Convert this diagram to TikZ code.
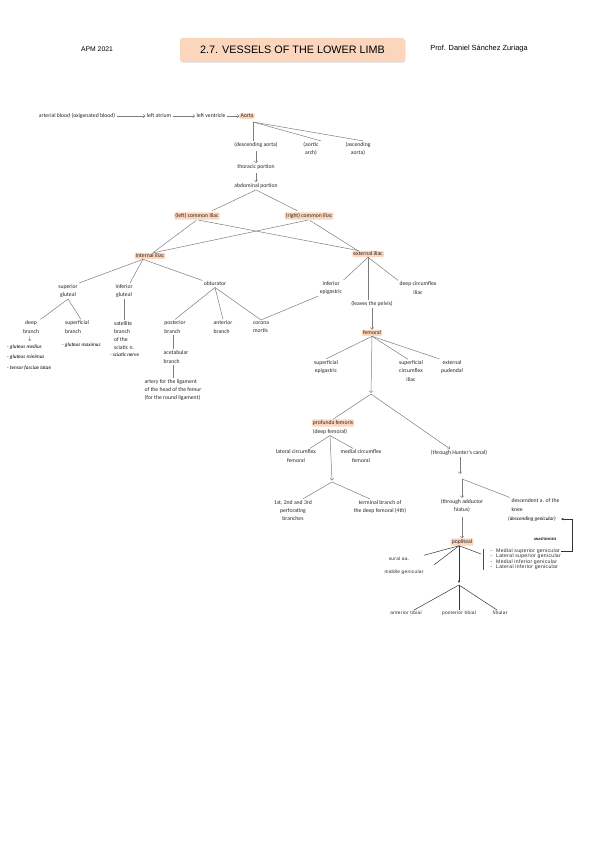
\documentclass[tikz,border=0pt]{standalone}
\usepackage{fontspec}
\newfontfamily\cf{Carlito}
\newfontfamily\hf{Liberation Sans}
\newfontfamily\pf[LetterSpace=6]{Liberation Sans}
\usetikzlibrary{arrows.meta,shadows}

\definecolor{peach}{RGB}{252,214,188}
\definecolor{linegray}{RGB}{125,125,125}

\tikzset{
  lbl/.style={font=\cf\fontsize{5.7}{8.2}\selectfont, align=center, inner sep=1.3pt, text=black!85},
  hl/.style={lbl, fill=peach, inner sep=1.1pt, rounded corners=1pt},
  conn/.style={draw=linegray, line width=0.5pt},
  arr/.style={conn, -{Straight Barb[length=1.8pt,width=3.4pt]}},
  darr/.style={draw=black!80, line width=0.5pt, -{Stealth[length=2.8pt,width=2.4pt]}},
  note/.style={font=\cf\itshape\fontsize{5.2}{6}\selectfont, anchor=west, inner sep=0pt},
  pop/.style={font=\pf\fontsize{4.8}{5.6}\selectfont, inner sep=1pt, text=black!85},
  genlist/.style={pop, font=\pf\fontsize{5.1}{5.6}\selectfont, anchor=west},
  titlebox/.style={font=\hf\fontsize{10.8}{12}\selectfont, fill=peach, rounded corners=2.5pt,
    minimum width=225pt, minimum height=24pt, drop shadow={opacity=0.18, shadow xshift=0.7pt, shadow yshift=-0.9pt}},
}

\begin{document}
\begin{tikzpicture}[x=1pt, y=-1pt]
  \useasboundingbox (0,0) rectangle (599,848);

  % Header
  \node[font=\hf\fontsize{6.8}{8}\selectfont] (apm) at (97,49) {APM 2021};
  \node[titlebox] (title) at (292.5,50) {2.7. VESSELS OF THE LOWER LIMB};
  \node[font=\hf\fontsize{7.4}{8}\selectfont] (prof) at (479,49) {Prof. Daniel Sánchez Zuriaga};

  % Heart to aorta
  \node[lbl] (blood) at (77,116) {arterial blood (oxigenated blood)};
  \node[lbl] (atrium) at (159,116) {left atrium};
  \node[lbl] (ventricle) at (211,116) {left ventricle};
  \node[hl] (aorta) at (247,116) {Aorta};
  \draw[arr] (blood) -- (atrium);
  \draw[arr] (atrium) -- (ventricle);
  \draw[arr] (ventricle) -- (aorta);

  % Aorta branches
  \node[lbl] (descao) at (256,145) {(descending aorta)};
  \node[lbl] (arch) at (311,149) {(aortic\\arch)};
  \node[lbl] (ascao) at (358,149) {(ascending\\aorta)};
  \coordinate (aortafork) at (253,122);
  \draw[conn] (aortafork) -- (aortafork |- descao.north);
  \draw[conn] (aortafork) -- ([xshift=10pt]arch.north);
  \draw[conn] (aortafork) -- ([xshift=5pt]ascao.north);

  % Descending aorta
  \node[lbl] (thoracic) at (256,167) {thoracic portion};
  \node[lbl] (abdominal) at (256,186) {abdominal portion};
  \draw[arr, shorten <=2pt] (descao) -- (thoracic);
  \draw[arr, shorten <=2pt] (thoracic) -- (abdominal);

  % Common iliacs
  \node[hl] (lci) at (197,216) {(left) common iliac};
  \node[hl] (rci) at (309,216) {(right) common iliac};
  \node[hl] (intil) at (150,256) {internal iliac};
  \node[hl] (extil) at (368,254) {external iliac};
  \draw[conn, shorten >=3pt] (abdominal.south) -- ([xshift=12pt]lci.north);
  \draw[conn, shorten >=3pt] (abdominal.south) -- ([xshift=-9pt]rci.north);
  \draw[conn, shorten <=1pt] (lci.south) -- ([xshift=3pt]intil.north);
  \draw[conn, shorten <=1pt] (lci.south) -- ([xshift=-9pt]extil.north);
  \draw[conn, shorten <=1pt] (rci.south) -- ([xshift=4pt]intil.north);
  \draw[conn, shorten <=1pt] (rci.south) -- ([xshift=-10pt]extil.north);

  % Internal iliac
  \node[lbl] (supglut) at (68,291) {superior\\gluteal};
  \node[lbl] (infglut) at (124,291) {inferior\\gluteal};
  \node[lbl] (obtur) at (215,284) {obturator};
  \draw[conn] ([xshift=-7pt]intil.south) -- (supglut.north east);
  \draw[conn] ([xshift=-7pt]intil.south) -- ([xshift=6pt]infglut.north);
  \draw[conn] ([xshift=-7pt]intil.south) -- (obtur.north west);

  \node[lbl] (deepbr) at (31,327) {deep\\branch};
  \node[lbl, align=left] (supfbr) at (77,327) {superficial\\branch};
  \node[lbl, align=left] (satbr) at (124,335.5) {satellite\\branch\\of the\\sciatic n.};
  \draw[conn] (supglut.south) -- (deepbr.north east);
  \draw[conn] (supglut.south) -- ([xshift=4pt]supfbr.north);
  \draw[conn] (infglut.south) -- (infglut.south |- satbr.north);

  \node[lbl, align=left] (postbr) at (175,327) {posterior\\branch};
  \node[lbl, align=left] (antbr) at (223,327) {anterior\\branch};
  \node[lbl, align=left] (corona) at (261,327) {corona\\mortis};
  \node[lbl, align=left] (acetab) at (176,357) {acetabular\\branch};
  \node[lbl, align=left] (ligart) at (173,390) {artery for the ligament\\of the head of the femur\\(for the round ligament)};
  \draw[conn] (obtur.south) -- (postbr.north);
  \draw[conn] (obtur.south) -- (antbr.north);
  \draw[conn] (obtur.south) -- (corona.north);
  \draw[conn] ([xshift=-2pt]postbr.south) -- ([xshift=-2pt]postbr.south |- acetab.north);
  \draw[conn] ([xshift=-3pt]acetab.south) -- ([xshift=-3pt]acetab.south |- ligart.north);

  % Handwritten notes
  \node[note] (hwarrow) at (28,339) {$\downarrow$};
  \node[note] (gmed) at (7,347) {- gluteus medius};
  \node[note] (gmin) at (7,357) {- gluteus minimus};
  \node[note] (tfl) at (7,368) {- tensor fasciae latae};
  \node[note] (gmax) at (62,345) {- gluteus maximus};
  \node[note] (scn) at (110,355) {- sciatic nerve};

  % External iliac
  \node[lbl] (infepi) at (331,288) {inferior\\epigastric};
  \node[lbl] (dcirc) at (418,288) {deep circumflex\\iliac};
  \node[lbl] (leaves) at (372,304) {(leaves the pelvis)};
  \draw[conn] (extil.south) -- (infepi.north east);
  \draw[conn] (extil.south) -- (dcirc.north west);
  \draw[conn] (extil.south) -- (extil.south |- leaves.north);
  \draw[conn] (corona.north) -- (infepi.south west);

  % Femoral
  \node[hl] (femoral) at (372,333) {femoral};
  \draw[arr] (leaves) -- (femoral);
  \node[lbl] (supepi) at (326,367) {superficial\\epigastric};
  \node[lbl] (supcirc) at (411,371) {superficial\\circumflex\\iliac};
  \node[lbl] (extpud) at (452,367) {external\\pudendal};
  \coordinate (femfork) at (371,394);
  \draw[conn] (femoral.south) -- (supepi.north);
  \draw[conn] (femoral.south) -- ([xshift=-3pt]supcirc.north);
  \draw[conn] (femoral.south) -- (extpud.north west);
  \draw[arr] (femoral.south) -- ([yshift=1pt]femfork);

  % Profunda femoris
  \node[hl] (profunda) at (333,423) {profunda femoris};
  \node[lbl] (deepfem) at (330,431.5) {(deep femoral)};
  \node[lbl] (hunter) at (459,453) {(through Hunter's canal)};
  \draw[conn] (femfork) -- (profunda.north);
  \draw[arr] (femfork) -- ([xshift=-9pt]hunter.north);

  \node[lbl] (latcirc) at (296,456) {lateral circumflex\\femoral};
  \node[lbl] (medcirc) at (361,456) {medial circumflex\\femoral};
  \coordinate (deepfork) at (332,482);
  \draw[conn] (deepfem.south) -- ([xshift=14pt]latcirc.north);
  \draw[conn] (deepfem.south) -- ([xshift=-8pt]medcirc.north);
  \draw[arr] (deepfem.south) -- ([yshift=1.5pt]deepfork);

  \node[lbl] (perf) at (293,510.5) {1st, 2nd and 3rd\\perforating\\branches};
  \node[lbl] (termbr) at (380,507) {terminal branch of\\the deep femoral (4th)};
  \draw[conn] (deepfork) -- ([xshift=10pt]perf.north);
  \draw[conn] (deepfork) -- ([xshift=-10pt]termbr.north);

  % Adductor canal
  \coordinate (huntertip) at (460,474);
  \coordinate (hunterfork) at (462,479);
  \draw[arr] (hunter) -- (hunter.south -| huntertip) -- (huntertip);
  \node[lbl] (hiatus) at (462,506) {(through adductor\\hiatus)};
  \node[lbl, align=left, anchor=north west] (descknee) at (510,497.5) {descendent a. of the\\knee};
  \node[note] (descgen) at (508,519) {(descending genicular)};
  \node[font=\cf\bfseries\fontsize{3.6}{4}\selectfont, inner sep=0pt] (anast) at (545,539) {ANASTOMOSIS};
  \draw[conn] (hunterfork) -- (descknee.north west);
  \draw[arr] (hunterfork) -- (hiatus);

  % Popliteal
  \node[hl] (popliteal) at (462,542) {popliteal};
  \draw[arr, shorten <=3pt] (hiatus) -- (popliteal);
  \node[pop] (sural) at (399,559) {sural aa.};
  \node[pop] (midgen) at (404,572) {middle genicular};
  \node[genlist] (g1) at (495,551) {\makebox[0pt][r]{-\hspace{4pt}}Medial superior genicular};
  \node[genlist] (g2) at (495,556.5) {\makebox[0pt][r]{-\hspace{4pt}}Lateral superior genicular};
  \node[genlist] (g3) at (495,562) {\makebox[0pt][r]{-\hspace{4pt}}Medial inferior genicular};
  \node[genlist] (g4) at (495,567.5) {\makebox[0pt][r]{-\hspace{4pt}}Lateral inferior genicular};
  \coordinate (brtop) at (483,549);
  \coordinate (brbot) at (483,570);
  \coordinate (brjoin) at (481,554);
  \coordinate (popfork) at (459,585);
  \coordinate (loopr) at (572,519);
  \draw[conn, draw=black!70] (brtop) -- (brbot);
  \draw[line width=0.5pt, black!80, shorten >=14pt] ([xshift=-3pt]popliteal.south) -- (sural.east);
  \draw[line width=0.5pt, black!80, shorten >=12pt] ([xshift=-3pt]popliteal.south) -- (midgen.east);
  \draw[line width=0.5pt, black!80] ([xshift=-3pt]popliteal.south) -- (brjoin);
  \draw[darr] ([xshift=-3pt]popliteal.south) -- ([yshift=2pt]popfork);
  \draw[darr, shorten >=5pt] (g1.east) -| (loopr) -- (descgen.east);

  \node[pop] (anttib) at (406,613) {anterior tibial};
  \node[pop] (posttib) at (459,613) {posterior tibial};
  \node[pop] (fibular) at (500,613) {fibular};
  \draw[line width=0.5pt, black!80] (popfork) -- ([xshift=8pt]anttib.north);
  \draw[line width=0.5pt, black!80] (popfork) -- (posttib.north);
  \draw[line width=0.5pt, black!80] (popfork) -- ([xshift=-3pt]fibular.north);
\end{tikzpicture}
\end{document}
